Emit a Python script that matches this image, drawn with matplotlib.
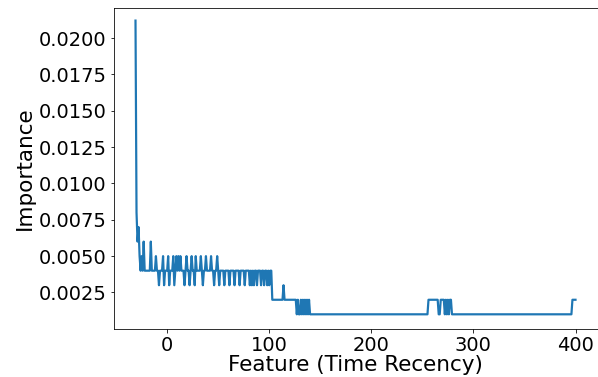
import matplotlib

matplotlib.use("Agg")
import matplotlib.pyplot as plt
from matplotlib.ticker import MultipleLocator
import numpy as np

# ── Data (importance in units of 1e-3, one value per feature) ──────
x_start = -31
importance_permille = [
    21.2, 8, 6, 7, 5, 4, 5, 4, 6, 4,        # -31 .. -22
    4, 4, 4, 4, 4, 6, 4, 4, 4, 4,           # -21 .. -12
    5, 4, 4, 3, 4, 4, 4, 5, 3, 4,           # -11 .. -2
    4, 4, 5, 3, 4, 4, 4, 5, 3, 4,           # -1 .. 8
    5, 4, 5, 4, 5, 4, 4, 4, 3, 4,           # 9 .. 18
    5, 4, 4, 3, 4, 5, 4, 4, 3, 5,           # 19 .. 28
    4, 4, 4, 4, 5, 4, 3, 4, 4, 5,           # 29 .. 38
    4, 4, 4, 4, 5, 4, 4, 3, 4, 4,           # 39 .. 48
    5, 4, 3, 4, 4, 4, 4, 3, 4, 4,           # 49 .. 58
    4, 4, 3, 4, 4, 4, 4, 3, 4, 4,           # 59 .. 68
    4, 4, 3, 4, 4, 4, 4, 3, 4, 4,           # 69 .. 78
    4, 4, 3, 4, 3, 4, 3, 4, 4, 3,           # 79 .. 88
    4, 4, 4, 3, 4, 4, 3, 4, 4, 3,           # 89 .. 98
    4, 3, 4, 4, 2, 2, 2, 2, 2, 2,           # 99 .. 108
    2, 2, 2, 2, 2, 3, 2, 2, 2, 2,           # 109 .. 118
    2, 2, 2, 2, 2, 2, 2, 2, 1, 2,           # 119 .. 128
    1, 1, 2, 1, 2, 1, 2, 1, 2, 1,           # 129 .. 138
    2, 1, 1, 1, 1, 1, 1, 1, 1, 1,           # 139 .. 148
    1, 1, 1, 1, 1, 1, 1, 1, 1, 1,           # 149 .. 158
    1, 1, 1, 1, 1, 1, 1, 1, 1, 1,           # 159 .. 168
    1, 1, 1, 1, 1, 1, 1, 1, 1, 1,           # 169 .. 178
    1, 1, 1, 1, 1, 1, 1, 1, 1, 1,           # 179 .. 188
    1, 1, 1, 1, 1, 1, 1, 1, 1, 1,           # 189 .. 198
    1, 1, 1, 1, 1, 1, 1, 1, 1, 1,           # 199 .. 208
    1, 1, 1, 1, 1, 1, 1, 1, 1, 1,           # 209 .. 218
    1, 1, 1, 1, 1, 1, 1, 1, 1, 1,           # 219 .. 228
    1, 1, 1, 1, 1, 1, 1, 1, 1, 1,           # 229 .. 238
    1, 1, 1, 1, 1, 1, 1, 1, 1, 1,           # 239 .. 248
    1, 1, 1, 1, 1, 1, 1,                    # 249 .. 255
    2, 2, 2, 2, 2, 2, 2, 2, 2, 2,           # 256 .. 265
    1, 1, 2, 2, 2, 2, 1, 2, 1, 2,           # 266 .. 275
    1, 2, 2, 1, 1, 1, 1, 1, 1, 1,           # 276 .. 285
    1, 1, 1, 1, 1, 1, 1, 1, 1, 1,           # 286 .. 295
    1, 1, 1, 1, 1, 1, 1, 1, 1, 1,           # 296 .. 305
    1, 1, 1, 1, 1, 1, 1, 1, 1, 1,           # 306 .. 315
    1, 1, 1, 1, 1, 1, 1, 1, 1, 1,           # 316 .. 325
    1, 1, 1, 1, 1, 1, 1, 1, 1, 1,           # 326 .. 335
    1, 1, 1, 1, 1, 1, 1, 1, 1, 1,           # 336 .. 345
    1, 1, 1, 1, 1, 1, 1, 1, 1, 1,           # 346 .. 355
    1, 1, 1, 1, 1, 1, 1, 1, 1, 1,           # 356 .. 365
    1, 1, 1, 1, 1, 1, 1, 1, 1, 1,           # 366 .. 375
    1, 1, 1, 1, 1, 1, 1, 1, 1, 1,           # 376 .. 385
    1, 1, 1, 1, 1, 1, 1, 1, 1, 1,           # 386 .. 395
    1, 2, 2, 2, 2,                          # 396 .. 400
]

importance = np.array(importance_permille) / 1000.0
features = np.arange(x_start, x_start + len(importance))

# ── Figure ─────────────────────────────────────────────────────────
DPI = 72
fig = plt.figure(figsize=(598 / DPI, 377 / DPI), dpi=DPI)
ax = fig.add_axes([113.5 / 598, 48.3 / 377, (597.5 - 113.5) / 598, (377 - 7.5 - 48.3) / 377])

ax.plot(features, importance, color="#1f77b4", linewidth=2.2)

ax.set_ylim(0.00001, 0.0221)
ax.yaxis.set_major_locator(MultipleLocator(0.0025))
ax.set_xlabel("Feature (Time Recency)", fontsize=21.5, labelpad=0)
ax.set_ylabel("Importance", fontsize=21.5, labelpad=4)
ax.tick_params(labelsize=19.5)

fig.savefig("out.png", dpi=DPI)
plt.close()
